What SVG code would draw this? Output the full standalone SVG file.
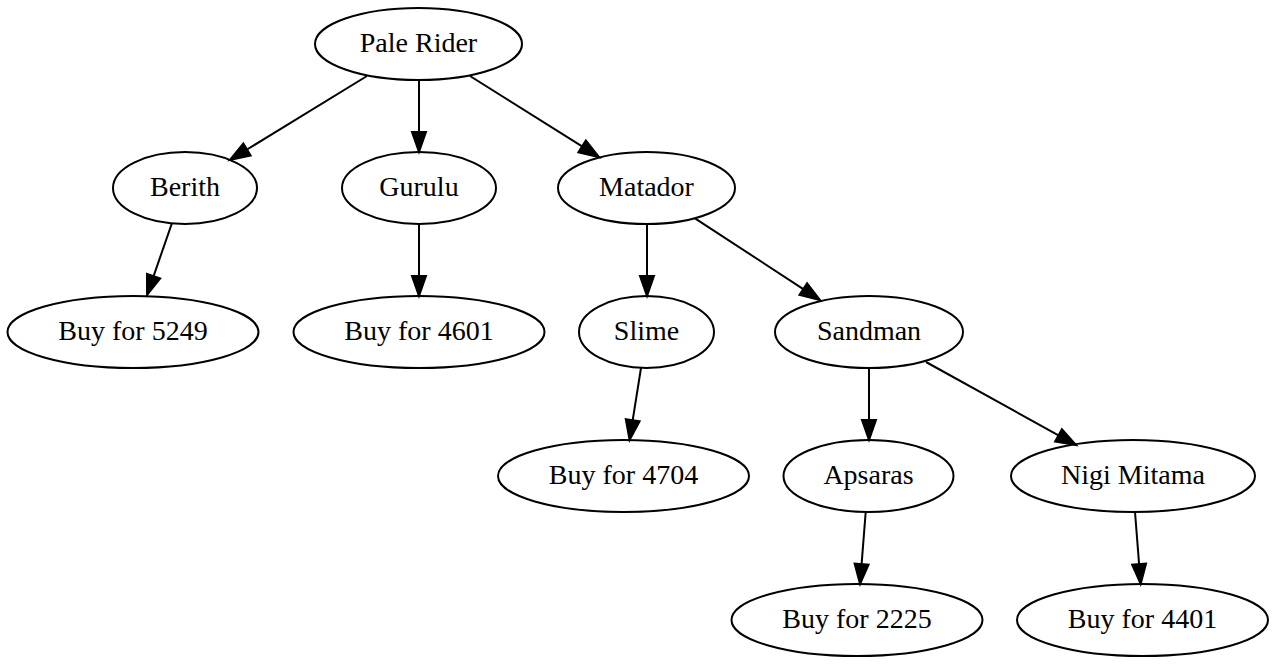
<svg xmlns="http://www.w3.org/2000/svg" width="1276" height="664" viewBox="0 0 1276 664">
<style>
.n ellipse{fill:none;stroke:#000;stroke-width:2}
.n text{font-family:"Liberation Serif","Times New Roman",serif;font-size:28px;text-anchor:middle;fill:#000}
.e line{stroke:#000;stroke-width:2;marker-end:url(#arr)}
</style>
<defs>
<marker id="arr" markerUnits="userSpaceOnUse" markerWidth="24" markerHeight="18" refX="0" refY="7" orient="auto" overflow="visible">
<path d="M0,0 L20,7 L0,14 Z" fill="#000" stroke="#000" stroke-width="2"/>
</marker>
</defs>
<rect width="1276" height="664" fill="#fff"/>
<g id="edges" class="e">
<line x1="367" y1="76" x2="247" y2="149.5"/>
<line x1="419" y1="80" x2="419" y2="132"/>
<line x1="470" y1="76" x2="582.1" y2="146.4"/>
<line x1="172" y1="223" x2="153.6" y2="276.1"/>
<line x1="419" y1="224" x2="419" y2="276"/>
<line x1="647" y1="224" x2="647" y2="276"/>
<line x1="695" y1="218.3" x2="803.3" y2="289.1"/>
<line x1="641" y1="368" x2="632.7" y2="420.2"/>
<line x1="869" y1="368" x2="869" y2="420"/>
<line x1="926" y1="362" x2="1058.5" y2="435.3"/>
<line x1="865.7" y1="512" x2="861.6" y2="564.1"/>
<line x1="1135" y1="512" x2="1139.1" y2="564.1"/>
</g>
<g id="pale_rider" class="n"><ellipse cx="418.5" cy="44" rx="103.5" ry="36"/><text x="418.5" y="52">Pale Rider</text></g>
<g id="berith" class="n"><ellipse cx="185" cy="188" rx="72" ry="36"/><text x="185" y="196">Berith</text></g>
<g id="gurulu" class="n"><ellipse cx="419" cy="188" rx="77" ry="36"/><text x="419" y="196">Gurulu</text></g>
<g id="matador" class="n"><ellipse cx="646.5" cy="188" rx="88.5" ry="36"/><text x="646.5" y="196">Matador</text></g>
<g id="buy5249" class="n"><ellipse cx="133" cy="332" rx="125.5" ry="36"/><text x="133" y="340">Buy for 5249</text></g>
<g id="buy4601" class="n"><ellipse cx="419" cy="332" rx="125.5" ry="36"/><text x="419" y="340">Buy for 4601</text></g>
<g id="slime" class="n"><ellipse cx="646.5" cy="332" rx="67.5" ry="36"/><text x="646.5" y="340">Slime</text></g>
<g id="sandman" class="n"><ellipse cx="869" cy="332" rx="94" ry="36"/><text x="869" y="340">Sandman</text></g>
<g id="buy4704" class="n"><ellipse cx="623.5" cy="476" rx="125.5" ry="36"/><text x="623.5" y="484">Buy for 4704</text></g>
<g id="apsaras" class="n"><ellipse cx="868.5" cy="476" rx="85" ry="36"/><text x="868.5" y="484">Apsaras</text></g>
<g id="nigi_mitama" class="n"><ellipse cx="1133" cy="476" rx="122" ry="36"/><text x="1133" y="484">Nigi Mitama</text></g>
<g id="buy2225" class="n"><ellipse cx="857" cy="620" rx="125.5" ry="36"/><text x="857" y="628">Buy for 2225</text></g>
<g id="buy4401" class="n"><ellipse cx="1142.5" cy="620" rx="125.5" ry="36"/><text x="1142.5" y="628">Buy for 4401</text></g>
</svg>
